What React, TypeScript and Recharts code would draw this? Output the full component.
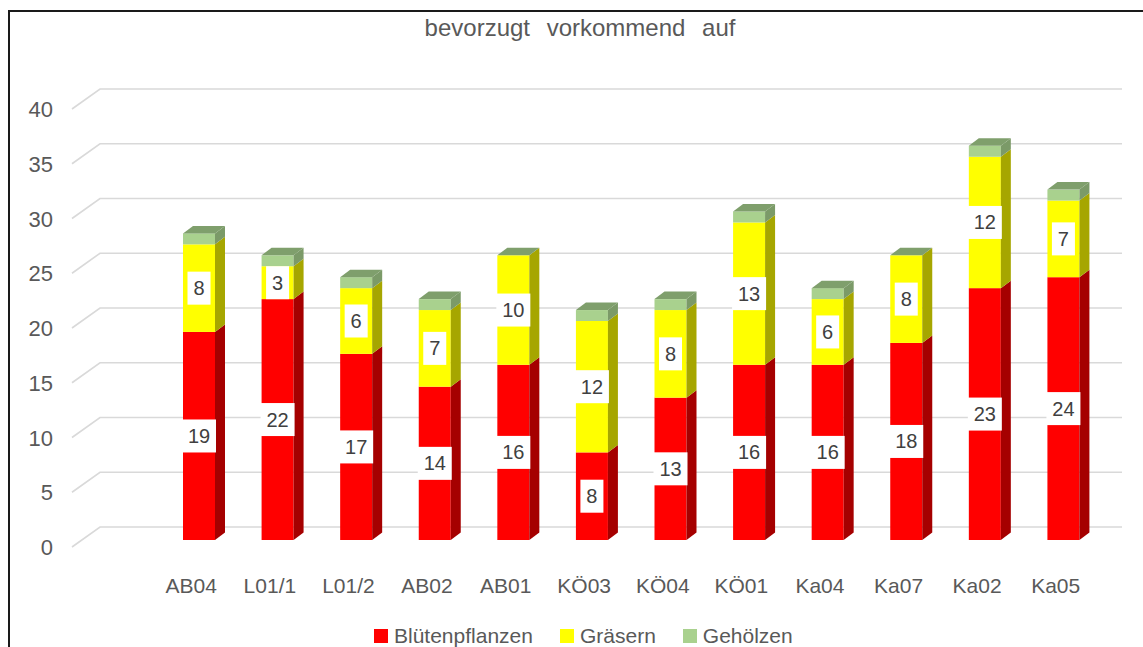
import { BarChart, Bar, XAxis, YAxis, CartesianGrid, LabelList } from 'recharts';

const categories = ['AB04', 'L01/1', 'L01/2', 'AB02', 'AB01', 'KÖ03', 'KÖ04', 'KÖ01', 'Ka04', 'Ka07', 'Ka02', 'Ka05'];
const bluetenpflanzen = [19, 22, 17, 14, 16, 8, 13, 16, 16, 18, 23, 24];
const graesern = [8, 3, 6, 7, 10, 12, 8, 13, 6, 8, 12, 7];
const gehoelzen = [1, 1, 1, 1, 0, 1, 1, 1, 1, 0, 1, 1];
const yTicks = [0, 5, 10, 15, 20, 25, 30, 35, 40];

const series = [
  { key: 'bluetenpflanzen', name: 'Blütenpflanzen', front: '#ff0000', side: '#a50000', top: '#c00000' },
  { key: 'graesern', name: 'Gräsern', front: '#ffff00', side: '#a6a600', top: '#bdbd00' },
  { key: 'gehoelzen', name: 'Gehölzen', front: '#a9d18e', side: '#7b9a68', top: '#7f9f6c' },
];

const data = categories.map((c, i) => ({
  name: c,
  bluetenpflanzen: bluetenpflanzen[i],
  graesern: graesern[i],
  gehoelzen: gehoelzen[i],
}));

const DX = 10;
const DY = 7.5;
const TEXT = '#595959';
const FONT = '"Liberation Sans", Arial, sans-serif';

const makeShape = (idx: number) => (props: any) => {
  const { x, y, width, height, payload } = props;
  const s = series[idx];
  if (!height || height <= 0) return <g />;
  let isTop = false;
  let topColor = s.top;
  if (idx === 2) isTop = true;
  if (idx === 1 && !payload.gehoelzen) {
    isTop = true;
    topColor = series[2].top;
  }
  if (idx === 0 && !payload.graesern && !payload.gehoelzen) isTop = true;
  return (
    <g>
      <rect x={x} y={y} width={width} height={height} fill={s.front} />
      <polygon
        points={`${x + width},${y} ${x + width + DX},${y - DY} ${x + width + DX},${y + height - DY} ${x + width},${y + height}`}
        fill={s.side}
      />
      {isTop && (
        <polygon
          points={`${x},${y} ${x + DX},${y - DY} ${x + width + DX},${y - DY} ${x + width},${y}`}
          fill={topColor}
        />
      )}
    </g>
  );
};

const renderLabel = (props: any) => {
  const { x, y, width, height, value } = props;
  if (!value) return null;
  const cx = x + width / 2;
  const cy = y + height / 2;
  const w = 12 + String(value).length * 11;
  const h = 33;
  return (
    <g>
      <rect x={cx - w / 2} y={cy - h / 2} width={w} height={h} fill="#ffffff" />
      <text x={cx} y={cy + 7} textAnchor="middle" fontSize={20} fill="#404040" fontFamily={FONT}>
        {value}
      </text>
    </g>
  );
};

const gridLine = (props: any) => {
  const { x1, x2, y1 } = props;
  return (
    <path
      key={props.key ?? `g-${y1}`}
      d={`M${x1 - 88},${y1 + 7} L${x1 - 60},${y1 - 13} L${x2 + 19},${y1 - 13}`}
      stroke="#d9d9d9"
      strokeWidth={1.6}
      fill="none"
    />
  );
};

const YTick = (props: any) => {
  const { y, payload } = props;
  return (
    <text x={53} y={y + 15} textAnchor="end" fontSize={22} fill={TEXT} fontFamily={FONT}>
      {payload.value}
    </text>
  );
};

const XTick = (props: any) => {
  const { x, y, payload } = props;
  return (
    <text x={x - 8} y={y + 45} textAnchor="middle" fontSize={21} fill={TEXT} fontFamily={FONT}>
      {payload.value}
    </text>
  );
};

export default function App() {
  return (
    <div style={{ position: 'absolute', left: 0, top: 0, width: 1143, height: 647, overflow: 'hidden', background: '#fff' }}>
      <div
        style={{
          position: 'absolute',
          left: 8,
          top: 10,
          width: 1160,
          height: 700,
          border: '2px solid #1a1a1a',
          boxSizing: 'border-box',
        }}
      />
      <div
        style={{
          position: 'absolute',
          left: 0,
          width: 1160,
          top: 14,
          textAlign: 'center',
          fontFamily: FONT,
          fontSize: 24,
          color: TEXT,
          wordSpacing: 10,
        }}
      >
        bevorzugt vorkommend auf
      </div>
      <div style={{ position: 'absolute', left: 0, top: 0 }}>
        <BarChart width={1143} height={647} data={data} margin={{ top: 102, right: 40, bottom: 57, left: 0 }}>
          <CartesianGrid vertical={false} horizontal={gridLine} />
          <YAxis
            width={160}
            domain={[0, 40]}
            ticks={yTicks}
            axisLine={false}
            tickLine={false}
            tick={YTick}
            interval={0}
          />
          <XAxis dataKey="name" height={50} axisLine={false} tickLine={false} tick={XTick} interval={0} />
          {series.map((s, i) => (
            <Bar
              key={s.key}
              dataKey={s.key}
              name={s.name}
              stackId="a"
              fill={s.front}
              barSize={32}
              isAnimationActive={false}
              shape={makeShape(i)}
            >
              {i < 2 && <LabelList dataKey={s.key} content={renderLabel} />}
            </Bar>
          ))}
        </BarChart>
      </div>
      <div
        style={{
          position: 'absolute',
          left: 374,
          top: 624,
          display: 'flex',
          alignItems: 'center',
          fontFamily: FONT,
          fontSize: 21,
          color: TEXT,
          whiteSpace: 'nowrap',
        }}
      >
        {series.map((s, i) => (
          <span key={s.key} style={{ display: 'flex', alignItems: 'center', marginRight: i < 2 ? 27 : 0 }}>
            <span style={{ display: 'inline-block', width: 14, height: 14, background: s.front, marginRight: 6 }} />
            {s.name}
          </span>
        ))}
      </div>
    </div>
  );
}
